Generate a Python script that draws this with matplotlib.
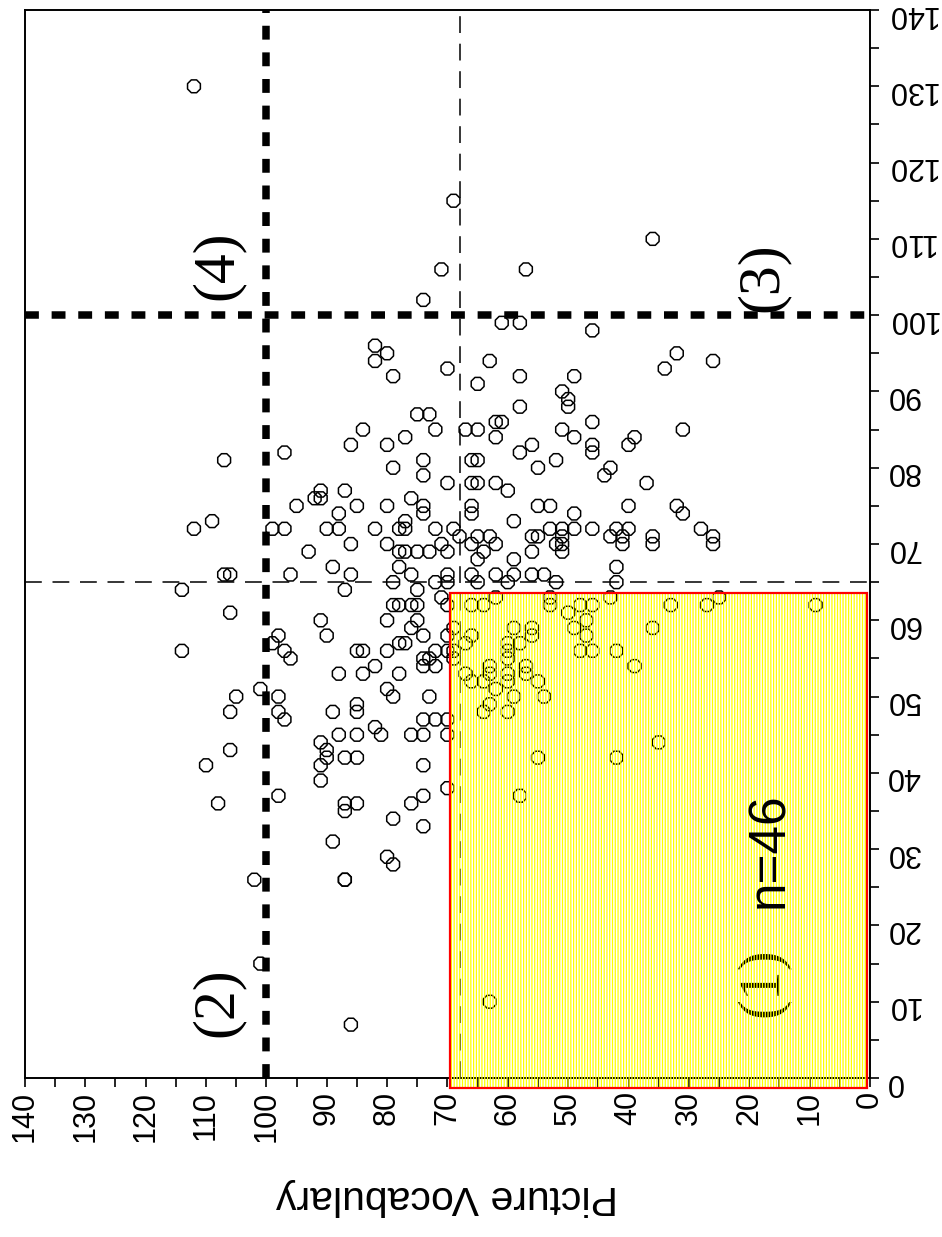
import matplotlib
matplotlib.use('Agg')
import matplotlib.pyplot as plt
from matplotlib.patches import Rectangle
from matplotlib.ticker import MultipleLocator

plt.rcParams['font.family'] = ['Liberation Sans', 'DejaVu Sans']
plt.rcParams['hatch.linewidth'] = 0.9

# (Picture Vocabulary, other score)
pv = [112, 71, 74, 82, 80, 82, 79, 70, 75, 73, 72, 84, 77, 86, 80, 97, 107, 74, 79, 74,
      70, 91, 87, 92, 91, 76, 95, 85, 80, 74, 74, 88, 77, 109, 112, 99, 97, 90, 88, 82,
      78, 77, 72,
      69, 36, 57, 61, 58, 46, 32, 26, 34, 63, 65, 58, 49, 51, 50, 50, 58, 67, 65, 62,
      61, 62, 51, 49, 46, 31, 39, 40, 46, 46, 58, 56, 52, 55, 66, 65, 43, 44, 66, 65,
      62, 60, 37, 66, 66, 55, 53, 49, 40, 32, 31, 59, 69, 68, 65, 63, 56, 55, 53, 51,
      51, 49, 46, 43, 42, 40, 41, 36, 28, 26,
      93, 86, 80, 78, 78, 77, 75, 73, 71, 70, 89, 86, 107, 106, 96, 76, 114, 87, 79, 75,
      72, 70, 70, 106, 91, 90, 80, 79, 78, 76, 75, 75, 76, 74, 71, 70, 114, 99, 98, 97,
      96, 85, 84, 80, 78, 77, 72, 70, 70, 74, 73, 72, 74, 88, 84, 82, 78, 101, 105, 106,
      98, 98, 97, 89, 85, 85, 80, 79, 73, 88, 85, 82, 81, 76, 74, 74, 72, 70, 70, 106,
      110, 91, 90, 90, 91, 91, 87, 85, 74, 70, 108, 98, 87, 87, 85, 76, 74, 79, 74, 89,
      80, 79, 102, 87, 87, 101, 86,
      66, 62, 64, 59, 56, 52, 51, 51, 41, 36, 26, 65, 66, 62, 59, 56, 54, 52, 42, 42,
      65, 60,
      66, 64, 62, 53, 53, 48, 46, 50, 43, 33, 27, 25, 47, 49, 47, 59, 56, 56, 36, 69,
      66, 67, 60, 58, 60, 48, 46, 42, 69, 69, 39, 63, 60, 57, 63, 60, 57, 67, 66, 64,
      62, 60, 55, 54, 59, 63, 64, 60, 35, 55, 42, 58, 63, 9]
other = [130, 106, 102, 96, 95, 94, 92, 93, 87, 87, 85, 85, 84, 83, 83, 82, 81, 81, 80, 79,
         78, 77, 77, 76, 76, 76, 75, 75, 75, 75, 74, 74, 73, 73, 72, 72, 72, 72, 72, 72,
         72, 72, 72,
         115, 110, 106, 99, 99, 98, 95, 94, 93, 94, 91, 92, 92, 90, 89, 88, 88, 85, 85, 86,
         86, 84, 85, 84, 86, 85, 84, 83, 83, 82, 82, 83, 81, 80, 81, 81, 80, 79, 78, 78,
         78, 77, 78, 75, 74, 75, 75, 74, 75, 75, 74, 73, 72, 71, 71, 71, 71, 71, 72, 72,
         71, 72, 72, 71, 72, 72, 71, 71, 72, 71,
         69, 70, 70, 69, 67, 69, 69, 69, 70, 69, 67, 66, 66, 66, 66, 66, 64, 64, 65, 64,
         65, 66, 65, 61, 60, 58, 60, 62, 62, 62, 62, 60, 59, 58, 63, 62, 56, 57, 58, 56,
         55, 56, 56, 56, 57, 57, 56, 58, 56, 55, 55, 54, 54, 53, 53, 54, 53, 51, 50, 48,
         50, 48, 47, 48, 49, 48, 51, 50, 50, 45, 45, 46, 45, 45, 45, 47, 47, 47, 45, 43,
         41, 44, 43, 42, 41, 39, 42, 42, 41, 38, 36, 37, 36, 35, 36, 36, 37, 34, 33, 31,
         29, 28, 26, 26, 26, 15, 7,
         70, 70, 69, 68, 69, 70, 70, 69, 70, 70, 70, 68, 66, 66, 66, 66, 66, 65, 67, 65,
         65, 65,
         62, 62, 63, 63, 62, 62, 62, 61, 63, 62, 62, 63, 60, 59, 58, 59, 59, 58, 59, 59,
         58, 57, 57, 57, 56, 56, 56, 56, 56, 55, 54, 54, 55, 54, 53, 53, 53, 53, 52, 52,
         51, 52, 52, 50, 50, 49, 48, 48, 44, 42, 42, 37, 10, 62]

cut_thick = 100
cut_pv = 68
cut_other = 65
box_pv = (0.5, 69.5)
box_other = (-1.3, 63.6)

fig = plt.figure(figsize=(9.42, 12.37), dpi=100)
ax = fig.add_axes([0.0265, 0.1285, 0.8970, 0.8634])

ax.scatter(pv, other, s=100, marker='8', facecolors='none', edgecolors='black',
           linewidths=1.1, zorder=2)

ax.axvline(cut_thick, color='black', lw=5.4, ls=(0, (1.85, 1.7)), zorder=3)
ax.axhline(cut_thick, color='black', lw=5.4, ls=(0, (1.85, 1.7)), zorder=3)
ax.axvline(cut_pv, color='black', lw=1.1, ls=(0, (11, 7)), zorder=3)
ax.axhline(cut_other, color='black', lw=1.1, ls=(0, (11, 7)), zorder=3)

serif = ['Liberation Serif', 'DejaVu Serif']
ax.text(108, 106.6, '(4)', rotation=90, fontsize=43, family=serif, ha='center', va='center', zorder=4)
ax.text(108, 10.0, '(2)', rotation=90, fontsize=43, family=serif, ha='center', va='center', zorder=4)
ax.text(17.7, 105.0, '(3)', rotation=90, fontsize=43, family=serif, ha='center', va='center', zorder=4)
ax.text(17.7, 12.5, '(1)', rotation=90, fontsize=43, family=serif, ha='center', va='center', zorder=4)

# hatched box for region (1)
w = box_pv[1] - box_pv[0]
h = box_other[1] - box_other[0]
ax.add_patch(Rectangle((box_pv[0], box_other[0]), w, h, facecolor='none', edgecolor='#ffff00',
                       hatch='||||||', linewidth=0, zorder=5, clip_on=False))
ax.add_patch(Rectangle((box_pv[0], box_other[0]), w, h, facecolor='none', edgecolor='red',
                       linewidth=1.6, zorder=6, clip_on=False))
ax.text(16.6, 29.9, 'n=46', rotation=90, fontsize=37, ha='center', va='center', zorder=7)

ax.set_xlim(140, 0)
ax.set_ylim(0, 140)
ax.xaxis.set_major_locator(MultipleLocator(10))
ax.xaxis.set_minor_locator(MultipleLocator(5))
ax.yaxis.set_major_locator(MultipleLocator(10))
ax.yaxis.set_minor_locator(MultipleLocator(5))
ax.yaxis.tick_right()
ax.tick_params(which='both', direction='out', length=6.5, width=1.2, labelsize=22)
ax.tick_params(axis='x', labelrotation=90, pad=3)
ax.tick_params(axis='y', labelrotation=180, pad=5)
for s in ax.spines.values():
    s.set_linewidth(1.4)

fig.text(0.4745, 0.0323, 'Picture Vocabulary', rotation=180, fontsize=29.5, ha='center', va='center')

fig.savefig('out.png', dpi=100)
